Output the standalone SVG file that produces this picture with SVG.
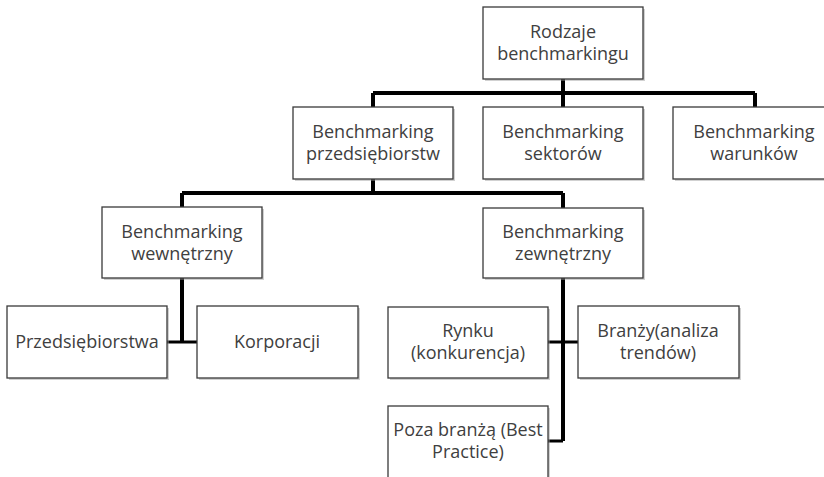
<svg xmlns="http://www.w3.org/2000/svg" width="824" height="477" viewBox="0 0 824 477">
<style>
  .box { fill: #ffffff; stroke: #3a3a3a; stroke-width: 1.3; }
  .shadow { fill: #9a9a9a; opacity: 0.45; }
  .t { font-family: "Open Sans", "Noto Sans", sans-serif; font-size: 18px; fill: #404040; text-anchor: middle; }
  .c { stroke: #000000; fill: none; stroke-width: 4; stroke-linejoin: miter; }
  .ch { stroke: #000000; fill: none; stroke-width: 3; }
</style>
<rect width="824" height="477" fill="#ffffff"/>
<g id="connectors">
  <path class="c" d="M563 79 V93 M373 93 H755 M373 93 V107 M563 93 V107 M755 93 V107"/>
  <path class="c" d="M373 179 V193 M182 193 H563 M182 193 V207 M563 193 V208"/>
  <path class="c" d="M182 278 V342"/>
  <path class="ch" d="M167 342 H197"/>
  <path class="c" d="M563 278 V441"/>
  <path class="ch" d="M548 342 H578 M548 441 H563"/>
</g>
<g id="root">
  <rect class="shadow" x="485" y="9" width="160" height="72"/>
  <rect class="box" x="483" y="7" width="160" height="72"/>
  <text class="t" x="563" y="38">Rodzaje</text>
  <text class="t" x="563" y="60">benchmarkingu</text>
</g>
<g id="przedsiebiorstw">
  <rect class="shadow" x="295" y="109" width="160" height="72"/>
  <rect class="box" x="293" y="107" width="160" height="72"/>
  <text class="t" x="373" y="138">Benchmarking</text>
  <text class="t" x="373" y="160">przedsiębiorstw</text>
</g>
<g id="sektorow">
  <rect class="shadow" x="485" y="109" width="160" height="72"/>
  <rect class="box" x="483" y="107" width="160" height="72"/>
  <text class="t" x="563" y="138">Benchmarking</text>
  <text class="t" x="563" y="160">sektorów</text>
</g>
<g id="warunkow">
  <rect class="shadow" x="675" y="109" width="160" height="72"/>
  <rect class="box" x="673" y="107" width="162" height="72"/>
  <text class="t" x="754" y="138">Benchmarking</text>
  <text class="t" x="754" y="160">warunków</text>
</g>
<g id="wewnetrzny">
  <rect class="shadow" x="104" y="209" width="160" height="71"/>
  <rect class="box" x="102" y="207" width="160" height="71"/>
  <text class="t" x="182" y="238">Benchmarking</text>
  <text class="t" x="182" y="260">wewnętrzny</text>
</g>
<g id="zewnetrzny">
  <rect class="shadow" x="485" y="210" width="160" height="70"/>
  <rect class="box" x="483" y="208" width="160" height="70"/>
  <text class="t" x="563" y="238">Benchmarking</text>
  <text class="t" x="563" y="260">zewnętrzny</text>
</g>
<g id="przedsiebiorstwa">
  <rect class="shadow" x="9" y="308" width="160" height="72"/>
  <rect class="box" x="7" y="306" width="160" height="72"/>
  <text class="t" x="87" y="348">Przedsiębiorstwa</text>
</g>
<g id="korporacji">
  <rect class="shadow" x="199" y="308" width="161" height="72"/>
  <rect class="box" x="197" y="306" width="161" height="72"/>
  <text class="t" x="277" y="348">Korporacji</text>
</g>
<g id="rynku">
  <rect class="shadow" x="390" y="309" width="160" height="71"/>
  <rect class="box" x="388" y="307" width="160" height="71"/>
  <text class="t" x="468" y="337">Rynku</text>
  <text class="t" x="468" y="359">(konkurencja)</text>
</g>
<g id="branzy">
  <rect class="shadow" x="580" y="308" width="161" height="72"/>
  <rect class="box" x="578" y="306" width="161" height="72"/>
  <text class="t" x="658" y="337">Branży(analiza</text>
  <text class="t" x="658" y="359">trendów)</text>
</g>
<g id="poza">
  <rect class="shadow" x="390" y="408" width="160" height="72"/>
  <rect class="box" x="388" y="406" width="160" height="72"/>
  <text class="t" x="468" y="436">Poza branżą (Best</text>
  <text class="t" x="468" y="458">Practice)</text>
</g>
</svg>
